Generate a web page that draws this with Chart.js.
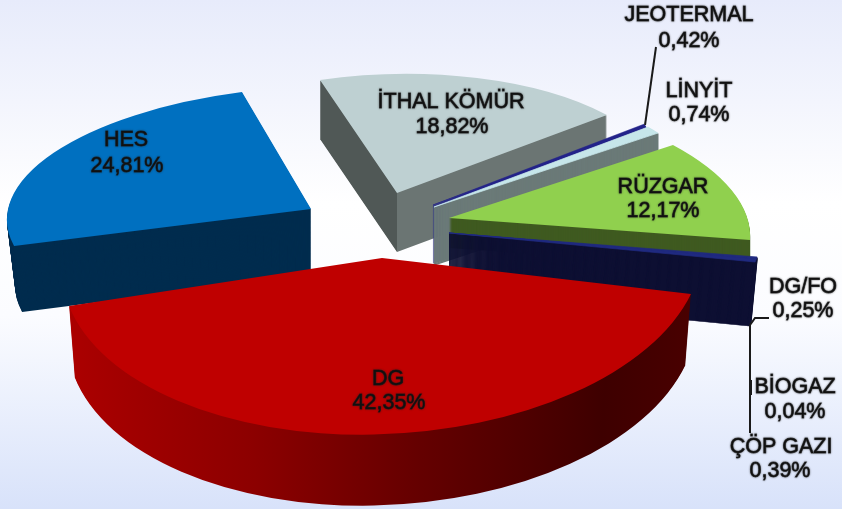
<!DOCTYPE html>
<html><head><meta charset="utf-8">
<style>
html,body{margin:0;padding:0;width:842px;height:509px;overflow:hidden;
background:linear-gradient(#E7EBFB 0,#FFFFFF 40%,#FBFCFF 62%,#D8E2FA 100%);}
canvas{display:block}
</style>
<script src="https://cdn.jsdelivr.net/npm/chart.js@4/dist/chart.umd.min.js"></script>
</head><body><canvas id="c" width="842" height="509"></canvas>
<script>
const categories = ['DG','HES','İTHAL KÖMÜR','JEOTERMAL','LİNYİT','RÜZGAR','DG/FO','BİOGAZ','ÇÖP GAZI'];
const shares = [42.35,24.81,18.82,0.42,0.74,12.17,0.25,0.04,0.39];

const topColors  = ['#BF0000','#0070C0','#BED0D2','#23238A','#C6E6EA','#90D04E','#1F2A80','#1F2A80','#1F2A80'];
const wallColors = ['', '#002C4E','', '#23238A','#6B7A78','#3F5A20','#0E1033','#0E1033','#0E1033'];

// projection of each slice onto the page: apex, ellipse basis, extrusion depth, taper
const views = [
 {px:382,py:258,ax:320.3,bx:-1.5,ay:-10,by:176.4,depth:71,taper:.018},
 {px:311,py:209,ax:304.1,bx:-.4,ay:-10.6,by:122.6,depth:66,taper:.027},
 {px:397,py:193,ax:269.1,bx:16,ay:-11.3,by:118.7,depth:59,taper:0},
 {px:433,py:205,ax:218,bx:-57.6,ay:-.4,by:138.8,depth:58,taper:0},
 {px:434,py:207,ax:300.6,bx:63.6,ay:4.7,by:150.2,depth:58,taper:0},
 {px:449,py:218,ax:295.9,bx:55.8,ay:-6.4,by:130.1,depth:30,taper:0},
 {px:449,py:233,ax:309.4,bx:28,ay:-2.3,by:120.6,depth:64,taper:.02},
 {px:449,py:233,ax:309.4,bx:28,ay:-2.3,by:120.6,depth:64,taper:.02},
 {px:449,py:233,ax:309.4,bx:28,ay:-2.3,by:120.6,depth:64,taper:.02}
];
const paintOrder = [1,2,3,4,5,6,7,8,0];
const thinSlices = [3,4,6,7,8];

// label centres [name x, name y, value x, value y]
const labelSpots = [
 [388,379,389,403],[126,140,127,166],[451,102,452,127],[689,15,689,41],[699,91,699,115],
 [663,187,663,211],[803,287,803,311],[795,387,795,412],[781,447,780,471]
];
const leaders = [
 [[645,125],[656,47]],
 [[750,325],[755,318],[769,318]],
 [[750,325],[750,433]],
 [[751,380],[751,395]]
];

function setView(ctx, el, v, t, shrink){
  const R = el.outerRadius, s = 1 - shrink;
  const a = s*v.ax/R, c = s*v.bx/R, b = v.ay/R, d = v.by/R;
  ctx.transform(a,b,c,d, v.px - a*el.x - c*el.y, v.py + t - b*el.x - d*el.y);
}
function paintArc(ctx, el, fill, edge){
  const saved = el.options;
  el.options = Object.assign({}, saved, {backgroundColor:fill, borderColor:fill, borderWidth:edge||0, borderAlign:'center'});
  el.draw(ctx);
  el.options = saved;
}
const extrude = {
  id:'extrude',
  beforeDatasetDraw(chart){
    const ctx = chart.ctx, arcs = chart.getDatasetMeta(0).data;
    paintOrder.forEach(i=>{
      const el = arcs[i], v = views[i], R = el.outerRadius;
      let wall = wallColors[i];
      if(i===0){
        wall = ctx.createLinearGradient(el.x-R,0,el.x+R,0);
        wall.addColorStop(0,'#AC0000');wall.addColorStop(.3,'#8C0000');
        wall.addColorStop(.55,'#660000');wall.addColorStop(.85,'#3E0000');wall.addColorStop(1,'#4A0000');
      }
      if(i===2){
        wall = ctx.createLinearGradient(el.x-R,0,el.x+R,0);
        wall.addColorStop(0,'#505856');wall.addColorStop(.5,'#505856');
        wall.addColorStop(.5,'#6B7573');wall.addColorStop(1,'#6B7573');
      }
      const edge = thinSlices.includes(i) ? 1.5 : 0;
      for(let t=v.depth;t>=1;t--){
        ctx.save();
        setView(ctx,el,v,t,v.taper*t/v.depth);
        paintArc(ctx,el,wall,edge);
        ctx.restore();
      }
      ctx.save();
      setView(ctx,el,v,0,0);
      paintArc(ctx,el,topColors[i],edge ? .8 : 0);
      ctx.restore();
    });
    return false;
  },
  afterDraw(chart){
    const ctx = chart.ctx;
    ctx.save();
    ctx.strokeStyle='#1A1A1A';ctx.lineWidth=2;
    leaders.forEach(l=>{
      ctx.beginPath();
      l.forEach((p,k)=>k?ctx.lineTo(p[0],p[1]):ctx.moveTo(p[0],p[1]));
      ctx.stroke();
    });
    ctx.font='21.5px "Liberation Sans"';
    ctx.textAlign='center';ctx.textBaseline='middle';
    categories.forEach((name,i)=>{
      const s = labelSpots[i];
      const val = shares[i].toFixed(2).replace('.',',')+'%';
      [[name,s[0],s[1]],[val,s[2],s[3]]].forEach(([txt,x,y])=>{
        ctx.shadowColor='rgba(40,40,40,.6)';ctx.shadowBlur=2;ctx.shadowOffsetX=0;ctx.shadowOffsetY=0;
        ctx.fillStyle='#101010';ctx.strokeStyle='rgba(15,15,15,.7)';ctx.lineWidth=.8;
        ctx.strokeText(txt,x,y);ctx.fillText(txt,x,y);
      });
    });
    ctx.restore();
  }
};
new Chart(document.getElementById('c'),{
  type:'pie',
  data:{labels:categories,datasets:[{data:shares,backgroundColor:topColors,borderWidth:0}]},
  options:{responsive:false,animation:false,rotation:105,layout:{padding:0},
    plugins:{legend:{display:false},tooltip:{enabled:false}},events:[]},
  plugins:[extrude]
});
</script></body></html>
